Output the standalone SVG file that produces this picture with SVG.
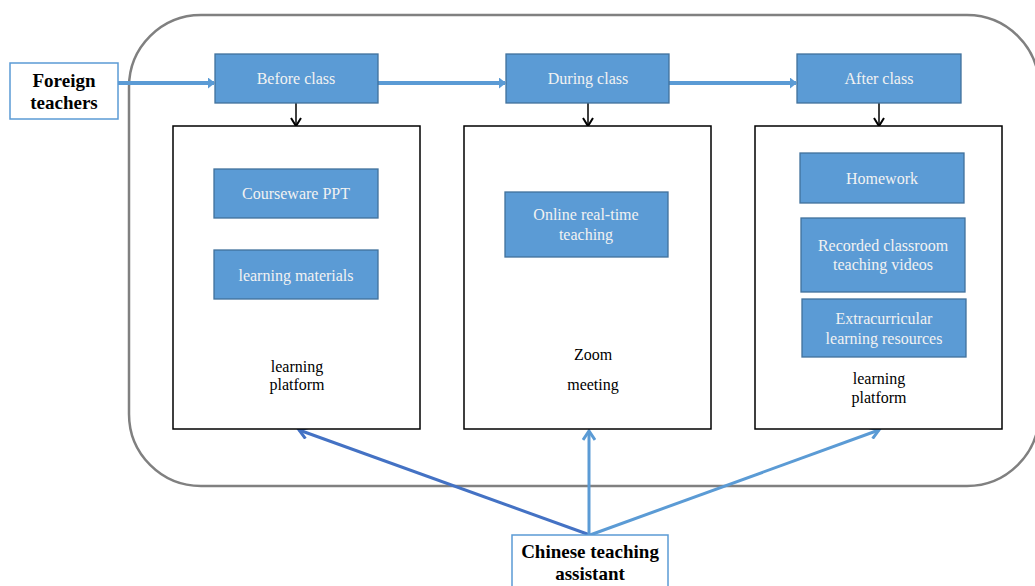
<svg xmlns="http://www.w3.org/2000/svg" width="1035" height="586" viewBox="0 0 1035 586">
<style>
.blue{fill:#5B9BD5;stroke:#41719C;stroke-width:1.3}
.wt{font-family:"Liberation Serif",serif;font-size:16px;fill:#F2F2F2;text-anchor:middle}
.bt{font-family:"Liberation Serif",serif;font-size:16px;fill:#000;text-anchor:middle}
.bold{font-family:"Liberation Serif",serif;font-size:19px;font-weight:bold;fill:#000;text-anchor:middle}
.panel{fill:#fff;stroke:#000;stroke-width:1.5}
</style>
<defs>
<marker id="tri" markerWidth="7" markerHeight="11" refX="6" refY="5.5" orient="auto" markerUnits="userSpaceOnUse" viewBox="0 0 7 11"><path d="M0,0 L7,5.5 L0,11 Z" fill="#5B9BD5"/></marker>
<marker id="vb" markerWidth="12" markerHeight="12" refX="10" refY="6" orient="auto" markerUnits="userSpaceOnUse" viewBox="0 0 12 12"><path d="M2,1 L10,6 L2,11" fill="none" stroke="#000" stroke-width="2"/></marker>
<marker id="vl" markerWidth="14" markerHeight="14" refX="11" refY="7" orient="auto" markerUnits="userSpaceOnUse" viewBox="0 0 14 14"><path d="M2,1 L11,7 L2,13" fill="none" stroke="#5B9BD5" stroke-width="3"/></marker>
<marker id="vd" markerWidth="14" markerHeight="14" refX="11" refY="7" orient="auto" markerUnits="userSpaceOnUse" viewBox="0 0 14 14"><path d="M2,1 L11,7 L2,13" fill="none" stroke="#4472C4" stroke-width="3"/></marker>
</defs>
<rect width="1035" height="586" fill="#fff"/>
<rect id="frame" x="129" y="15" width="910" height="471" rx="72" ry="72" fill="none" stroke="#808080" stroke-width="2.5"/>

<g id="connectors">
<line x1="118" y1="83" x2="214" y2="83" stroke="#5B9BD5" stroke-width="4" marker-end="url(#tri)"/>
<line x1="378" y1="83" x2="505" y2="83" stroke="#5B9BD5" stroke-width="4" marker-end="url(#tri)"/>
<line x1="669" y1="83" x2="796" y2="83" stroke="#5B9BD5" stroke-width="4" marker-end="url(#tri)"/>
<line x1="296" y1="103" x2="296" y2="126" stroke="#000" stroke-width="1.5" marker-end="url(#vb)"/>
<line x1="588" y1="103" x2="588" y2="126" stroke="#000" stroke-width="1.5" marker-end="url(#vb)"/>
<line x1="879" y1="103" x2="879" y2="126" stroke="#000" stroke-width="1.5" marker-end="url(#vb)"/>
<line x1="590" y1="535" x2="299" y2="430" stroke="#4472C4" stroke-width="3" marker-end="url(#vd)"/>
<line x1="589" y1="535" x2="589" y2="431" stroke="#5B9BD5" stroke-width="3" marker-end="url(#vl)"/>
<line x1="590" y1="535" x2="879" y2="430" stroke="#5B9BD5" stroke-width="3" marker-end="url(#vl)"/>
</g>

<g id="foreign">
<rect x="10" y="63" width="108" height="56" fill="#fff" stroke="#5B9BD5" stroke-width="1.5"/>
<text class="bold" x="64" y="87">Foreign</text>
<text class="bold" x="64" y="109">teachers</text>
</g>

<g id="before">
<rect class="blue" x="215" y="54" width="163" height="49"/>
<text class="wt" x="296" y="84">Before class</text>
</g>
<g id="during">
<rect class="blue" x="506" y="54" width="163" height="49"/>
<text class="wt" x="588" y="84">During class</text>
</g>
<g id="after">
<rect class="blue" x="797" y="54" width="164" height="49"/>
<text class="wt" x="879" y="84">After class</text>
</g>

<g id="panel1">
<rect class="panel" x="173" y="126" width="247" height="303"/>
<text class="bt" x="297" y="372">learning</text>
<text class="bt" x="297" y="390">platform</text>
</g>
<g id="courseware">
<rect class="blue" x="214" y="169" width="164" height="49"/>
<text class="wt" x="296" y="199">Courseware PPT</text>
</g>
<g id="materials">
<rect class="blue" x="214" y="250" width="164" height="49"/>
<text class="wt" x="296" y="281">learning materials</text>
</g>

<g id="panel2">
<rect class="panel" x="464" y="126" width="247" height="303"/>
<text class="bt" x="593" y="360">Zoom</text>
<text class="bt" x="593" y="390">meeting</text>
</g>
<g id="online">
<rect class="blue" x="505" y="192" width="163" height="65"/>
<text class="wt" x="586" y="220">Online real-time</text>
<text class="wt" x="586" y="240">teaching</text>
</g>

<g id="panel3">
<rect class="panel" x="755" y="126" width="247" height="303"/>
<text class="bt" x="879" y="384">learning</text>
<text class="bt" x="879" y="403">platform</text>
</g>
<g id="homework">
<rect class="blue" x="800" y="153" width="164" height="50"/>
<text class="wt" x="882" y="184">Homework</text>
</g>
<g id="recorded">
<rect class="blue" x="801" y="218" width="164" height="74"/>
<text class="wt" x="883" y="251">Recorded classroom</text>
<text class="wt" x="883" y="270">teaching videos</text>
</g>
<g id="extra">
<rect class="blue" x="802" y="299" width="164" height="58"/>
<text class="wt" x="884" y="324">Extracurricular</text>
<text class="wt" x="884" y="344">learning resources</text>
</g>

<g id="assistant">
<rect x="512" y="535" width="156" height="60" fill="#fff" stroke="#5B9BD5" stroke-width="1.5"/>
<text class="bold" x="590" y="558">Chinese teaching</text>
<text class="bold" x="590" y="580">assistant</text>
</g>
</svg>
